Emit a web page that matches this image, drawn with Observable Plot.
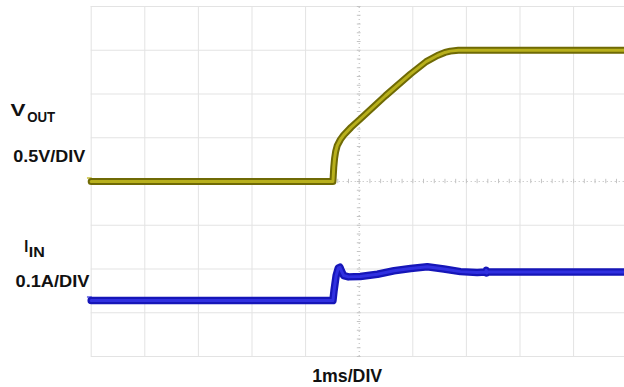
<!DOCTYPE html>
<html>
<head>
<meta charset="utf-8">
<script src="https://cdn.jsdelivr.net/npm/d3@7"></script>
<script src="https://cdn.jsdelivr.net/npm/@observablehq/plot@0.6"></script>
<style>
  html, body { margin: 0; padding: 0; background: #fff; }
  #chart svg { display: block; }
</style>
</head>
<body>
<div id="chart"></div>
<script>
// Output voltage trace: time in ms (0 = screen centre), volts
const vTime = [-5, -0.49, -0.475, -0.46, -0.44, -0.41, -0.35, -0.29, -0.15, 0.03, 0.49, 0.96, 1.25, 1.46, 1.6, 1.7, 1.85, 2.0, 5];
const vOut  = [0, 0, 0.16, 0.26, 0.34, 0.41, 0.48, 0.53, 0.62, 0.72, 0.98, 1.23, 1.37, 1.44, 1.475, 1.49, 1.5, 1.5, 1.5];

// Input current trace: time in ms, amps
const iTime = [-5, -0.49, -0.47, -0.43, -0.39, -0.36, -0.33, -0.29, -0.2, 0.02, 0.34, 0.65, 0.96, 1.27, 1.58, 1.89, 2.2, 2.36, 2.37, 2.38, 2.4, 5];
const iIn   = [0.028, 0.028, 0.05, 0.085, 0.102, 0.104, 0.095, 0.085, 0.082, 0.083, 0.088, 0.096, 0.101, 0.105, 0.1, 0.094, 0.092, 0.093, 0.097, 0.091, 0.093, 0.093];

// Scope settings: volts/amps per division and trace offsets in divisions
const vPerDiv = 0.5, vOffset = 0;
const aPerDiv = 0.1, aOffset = -3;

// Graticule: 10 horizontal by 8 vertical divisions
const gridX = d3.range(-5, 6);
const gridY = d3.range(-4, 5);
const minorX = d3.range(-25, 26).map(d => d / 5);
const minorY = d3.range(-20, 21).map(d => d / 5);

// Label texts
const vLabel = ["V", "OUT"];
const vScaleLabel = "0.5V/DIV";
const iLabel = ["I", "IN"];
const iScaleLabel = "0.1A/DIV";
const timeLabel = "1ms/DIV";

const vData = vTime.map((t, i) => ({t, div: vOut[i] / vPerDiv + vOffset}));
const iData = iTime.map((t, i) => ({t, div: iIn[i] / aPerDiv + aOffset}));

const font = "Liberation Sans, Arial, Helvetica, sans-serif";
const label = (text, x, y, size, width) =>
  Plot.text([text], {
    x, y, text: d => d, textAnchor: "start", lineAnchor: "bottom",
    fontSize: size, fontWeight: "bold", fill: "#111",
    render(index, scales, values, dims, context, next) {
      const g = next(index, scales, values, dims, context);
      d3.select(g).selectAll("text")
        .attr("textLength", width)
        .attr("lengthAdjust", "spacingAndGlyphs");
      return g;
    }
  });

const plot = Plot.plot({
  width: 624,
  height: 387,
  margin: 0,
  style: {background: "#fff", fontFamily: font},
  x: {domain: [-5, 5], range: [90.7, 626.7], axis: null},
  y: {domain: [-4, 4], range: [356, 6], axis: null},
  marks: [
    // graticule
    Plot.ruleX(gridX.filter(d => d !== 0), {y1: -4, y2: 4, stroke: "#e3e3e3", strokeWidth: 1}),
    Plot.ruleY(gridY.filter(d => d !== 0), {x1: -5, x2: 5, stroke: "#e3e3e3", strokeWidth: 1}),
    Plot.ruleX([0], {y1: -4, y2: 4, stroke: "#b9b9b9", strokeWidth: 1, strokeDasharray: "1,3"}),
    Plot.ruleY([0], {x1: -5, x2: 5, stroke: "#b9b9b9", strokeWidth: 1, strokeDasharray: "1,3"}),
    Plot.ruleX(minorX, {y1: -0.05, y2: 0.05, stroke: "#c4c4c4", strokeWidth: 1}),
    Plot.ruleY(minorY, {x1: -0.035, x2: 0.035, stroke: "#c4c4c4", strokeWidth: 1}),

    // channel ground markers
    Plot.ruleY([vOffset + 0.08], {x1: -5.07, x2: -4.98, stroke: "#c8c03a", strokeWidth: 1.5}),
    Plot.ruleY([aOffset + 0.36], {x1: -5.07, x2: -4.98, stroke: "#5a5ae0", strokeWidth: 1.5}),

    // VOUT trace
    Plot.line(vData, {x: "t", y: "div", stroke: "#6f6a05", strokeWidth: 7, curve: "linear"}),
    Plot.line(vData, {x: "t", y: "div", stroke: "#b8b01c", strokeWidth: 3, curve: "linear"}),

    // IIN trace
    Plot.line(iData, {x: "t", y: "div", stroke: "#1616b8", strokeWidth: 7.5, curve: "linear"}),
    Plot.line(iData, {x: "t", y: "div", stroke: "#3030e0", strokeWidth: 3, curve: "linear"}),

    // channel and timebase labels
    label(vLabel[0], -6.506, 1.486, 16.5, 15),
    label(vLabel[1], -6.194, 1.355, 15, 28),
    label(vScaleLabel, -6.455, 0.457, 16.5, 72),
    label(iLabel[0], -6.25, -1.6, 17, 4),
    label(iLabel[1], -6.164, -1.73, 15, 16),
    label(iScaleLabel, -6.412, -2.418, 16.5, 74),
    label(timeLabel, -0.877, -4.594, 17.5, 70)
  ]
});

document.getElementById("chart").append(plot);
</script>
</body>
</html>
